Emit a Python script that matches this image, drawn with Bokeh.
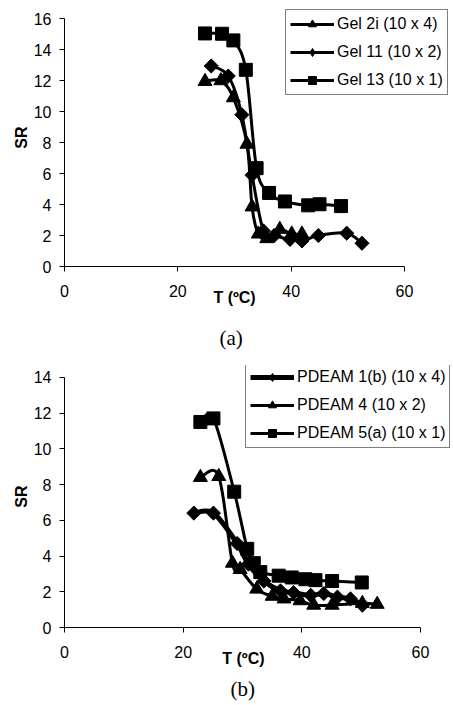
from bokeh.plotting import figure
from bokeh.models import Range1d, Legend, LegendItem, Title, FixedTicker
from bokeh.layouts import column
from bokeh.embed import file_html
from bokeh.resources import INLINE
import math

# ---------------- data: chart (a) ----------------
gel2i_T = [24.8, 27.6, 29.8, 32.2, 33.1, 34.2, 35.7, 38.0, 40.1, 41.9]
gel2i_SR = [11.95, 12.0, 10.9, 7.9, 3.85, 2.1, 1.8, 2.4, 2.1, 2.1]
gel11_T = [25.9, 28.9, 31.3, 33.1, 35.1, 37.0, 39.8, 41.9, 44.8, 49.8, 52.5]
gel11_SR = [12.95, 12.3, 9.8, 5.9, 2.3, 2.0, 1.75, 1.65, 2.0, 2.15, 1.5]
gel13_T = [24.8, 27.8, 29.8, 32.0, 33.9, 36.1, 38.9, 43.0, 45.0, 48.8]
gel13_SR = [15.05, 15.03, 14.6, 12.7, 6.35, 4.75, 4.2, 3.95, 4.02, 3.9]

# ---------------- data: chart (b) ----------------
p1_T = [21.8, 25.1, 29.1, 31.0, 33.6, 36.4, 38.6, 41.5, 43.7, 46.0, 48.2, 50.2]
p1_SR = [6.4, 6.4, 4.7, 3.55, 2.6, 2.05, 1.95, 1.8, 1.9, 1.7, 1.6, 1.25]
p4_T = [22.9, 26.0, 28.3, 29.6, 32.4, 35.0, 37.0, 39.7, 42.0, 45.1, 50.2, 52.7]
p4_SR = [8.4, 8.45, 3.6, 3.25, 2.15, 1.75, 1.6, 1.5, 1.25, 1.25, 1.35, 1.3]
p5_T = [22.9, 25.1, 28.6, 30.8, 31.9, 33.0, 36.1, 38.3, 40.6, 42.3, 45.1, 50.1]
p5_SR = [11.5, 11.7, 7.6, 4.4, 3.6, 3.1, 2.9, 2.8, 2.7, 2.65, 2.6, 2.52]

x_ticks = [0, 20, 40, 60]
ya_ticks = list(range(0, 17, 2))
yb_ticks = list(range(0, 15, 2))

X_TITLE = "T (ºC)"
Y_TITLE = "SR"
FONT = "Liberation Sans"
NBSP = "\u00a0"


def smooth(xs, ys):
    """Excel-style smoothed line as cubic Bezier segments (Catmull-Rom)."""
    n = len(xs)
    d = dict(x0=[], y0=[], x1=[], y1=[], cx0=[], cy0=[], cx1=[], cy1=[])
    for i in range(n - 1):
        a = max(i - 1, 0)
        b = min(i + 2, n - 1)
        d["x0"].append(xs[i]); d["y0"].append(ys[i])
        d["x1"].append(xs[i + 1]); d["y1"].append(ys[i + 1])
        d["cx0"].append(xs[i] + (xs[i + 1] - xs[a]) / 6.0)
        d["cy0"].append(ys[i] + (ys[i + 1] - ys[a]) / 6.0)
        d["cx1"].append(xs[i + 1] - (xs[b] - xs[i]) / 6.0)
        d["cy1"].append(ys[i + 1] - (ys[b] - ys[i]) / 6.0)
    return d


def make_fig(w, h, bt, bb, xmax_view, ymax, ymax_view, yticks,
             caption, cap_standoff, cap_offset, xpad):
    p = figure(width=w, height=h, output_backend="svg", toolbar_location=None,
               x_range=Range1d(0, xmax_view), y_range=Range1d(0, ymax_view),
               min_border_left=64, min_border_right=0,
               min_border_top=bt, min_border_bottom=bb)
    p.outline_line_color = None
    p.grid.visible = False
    p.background_fill_color = "white"
    p.border_fill_color = "white"
    p.xaxis.ticker = FixedTicker(ticks=x_ticks)
    p.yaxis.ticker = FixedTicker(ticks=yticks)
    p.xaxis.bounds = (0, 60)
    p.yaxis.bounds = (0, ymax)
    for ax in (p.xaxis[0], p.yaxis[0]):
        ax.axis_line_color = "black"
        ax.axis_line_width = 1
        ax.major_tick_line_color = "black"
        ax.major_tick_out = 5
        ax.major_tick_in = 0
        ax.minor_tick_line_color = None
        ax.major_label_text_font = FONT
        ax.major_label_text_font_size = "16px"
        ax.major_label_text_color = "black"
        ax.axis_label_text_font = FONT
        ax.axis_label_text_font_size = "16px"
        ax.axis_label_text_font_style = "bold"
        ax.axis_label_text_color = "black"
    # trailing no-break spaces move the centred title toward the 0-60 axis span
    p.xaxis.axis_label = X_TITLE + NBSP * xpad
    p.yaxis.axis_label = Y_TITLE
    p.xaxis.major_label_standoff = 13
    p.yaxis.major_label_standoff = 8
    p.xaxis.axis_label_standoff = -11
    p.yaxis.axis_label_standoff = 1
    p.add_layout(Title(text=caption, align="left", offset=cap_offset,
                       text_font="Liberation Serif",
                       text_font_size="21px", text_font_style="normal",
                       text_color="black", standoff=cap_standoff), "below")
    return p


def add_series(p, xs, ys, marker, size, lw, diamond=False):
    bz = p.bezier(**smooth(xs, ys), line_color="black", line_width=lw)
    if not diamond:
        sc = p.scatter(xs, ys, marker=marker, size=size,
                       fill_color="black", line_color="black")
        return [bz, sc]
    # diamond markers: legend symbol + rotated squares on top
    dm = p.scatter(xs, ys, marker="diamond", size=size + 3,
                   fill_color="black", line_color="black")
    p.scatter(xs, ys, marker="square", size=size, angle=math.pi / 4,
              fill_color="black", line_color="black")
    return [bz, dm]


def style_legend(lg):
    lg.label_text_font = FONT
    lg.label_text_font_size = "16px"
    lg.label_text_color = "black"
    lg.border_line_color = "black"
    lg.border_line_width = 1
    lg.background_fill_color = "white"
    lg.background_fill_alpha = 1.0
    lg.glyph_width = 44
    lg.glyph_height = 20
    lg.label_height = 20
    lg.label_standoff = 3
    lg.spacing = 8
    lg.padding = 4
    lg.margin = 0


# ---------------- figure (a) ----------------
pa = make_fig(453, 365, 8, 99, 68.65, 16, 16.66, ya_ticks, "(a)", 31, 155, 11)
r_2i = add_series(pa, gel2i_T, gel2i_SR, "triangle", 14, 3)
r_11 = add_series(pa, gel11_T, gel11_SR, "square", 10, 3, diamond=True)
r_13 = add_series(pa, gel13_T, gel13_SR, "square", 13, 3)
lga = Legend(items=[LegendItem(label="Gel 2i (10 x 4)", renderers=r_2i),
                    LegendItem(label="Gel 11 (10 x 2)", renderers=r_11),
                    LegendItem(label="Gel 13 (10 x 1)", renderers=r_13)],
             location=(221, 171))
style_legend(lga)
pa.add_layout(lga, "center")

# ---------------- figure (b) ----------------
pb = make_fig(453, 340, 0, 78, 65.56, 14, 14.66, yb_ticks, "(b)", 10, 166, 7)
r_p1 = add_series(pb, p1_T, p1_SR, "square", 10, 5, diamond=True)
r_p4 = add_series(pb, p4_T, p4_SR, "triangle", 14, 3)
r_p5 = add_series(pb, p5_T, p5_SR, "square", 13, 3)
lgb = Legend(items=[LegendItem(label="PDEAM 1(b) (10 x 4)", renderers=r_p1),
                    LegendItem(label="PDEAM 4 (10 x 2)", renderers=r_p4),
                    LegendItem(label="PDEAM 5(a) (10 x 1)", renderers=r_p5)],
             location=(181, 179))
style_legend(lgb)
pb.add_layout(lgb, "center")

layout = column(pa, pb, spacing=0)
open("out.html", "w").write(file_html(layout, INLINE))
